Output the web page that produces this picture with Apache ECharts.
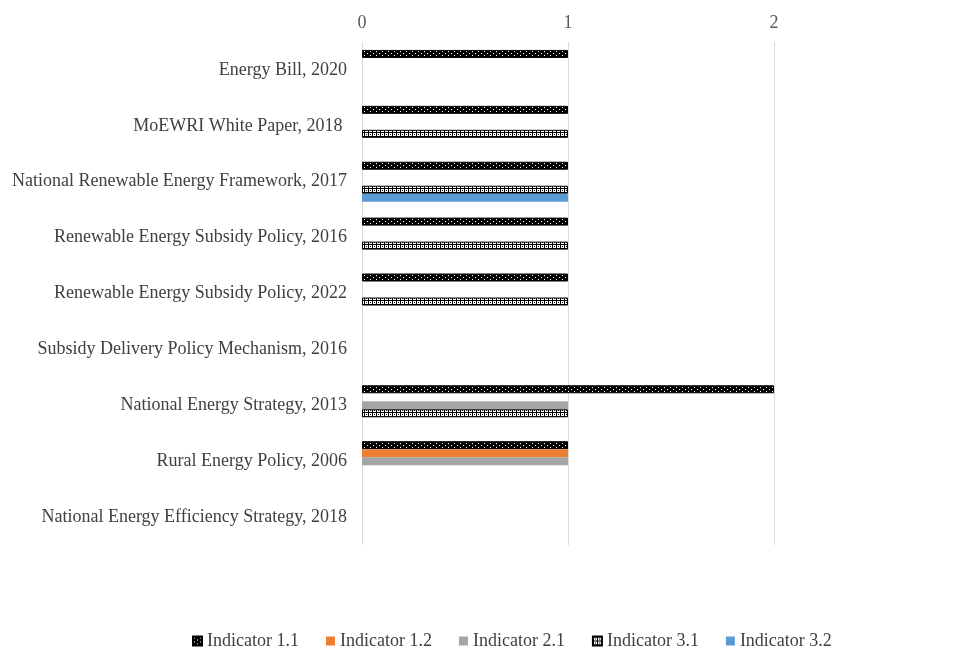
<!DOCTYPE html>
<html>
<head>
<meta charset="utf-8">
<script src="https://cdn.jsdelivr.net/npm/echarts@6/dist/echarts.min.js"></script>
<style>html,body{margin:0;padding:0;background:#fff}#c{width:972px;height:648px}</style>
</head>
<body>
<div id="c"></div>
<script>
var categories = [
  "Energy Bill, 2020",
  "MoEWRI White Paper, 2018 ",
  "National Renewable Energy Framework, 2017",
  "Renewable Energy Subsidy Policy, 2016",
  "Renewable Energy Subsidy Policy, 2022",
  "Subsidy Delivery Policy Mechanism, 2016",
  "National Energy Strategy, 2013",
  "Rural Energy Policy, 2006",
  "National Energy Efficiency Strategy, 2018"
];
var seriesNames = ["Indicator 1.1", "Indicator 1.2", "Indicator 2.1", "Indicator 3.1", "Indicator 3.2"];
var ind11 = [1, 1, 1, 1, 1, null, 2, 1, null];
var ind12 = [null, null, null, null, null, null, null, 1, null];
var ind21 = [null, null, null, null, null, null, 1, 1, null];
var ind31 = [null, 1, 1, 1, 1, null, 1, null, null];
var ind32 = [null, null, 1, null, null, null, null, null, null];
var xTicks = [0, 1, 2];

function makePattern(w, h, bg, fg, pts) {
  var c = document.createElement('canvas');
  c.width = w; c.height = h;
  var g = c.getContext('2d');
  g.fillStyle = bg; g.fillRect(0, 0, w, h);
  g.fillStyle = fg;
  pts.forEach(function (p) { g.fillRect(p[0], p[1], 1, 1); });
  return c;
}
var pat11 = makePattern(6, 4, '#000', '#fff', [[1, 1], [4, 3]]);
var pat31 = makePattern(4, 4, '#fff', '#000', [[0, 0], [1, 0], [2, 0], [3, 0], [0, 1], [0, 2], [0, 3], [2, 2]]);

var styles = [
  { color: { image: pat11, repeat: 'repeat' }, borderColor: '#000', borderWidth: 1 },
  { color: '#ED7D31' },
  { color: '#A5A5A5' },
  { color: { image: pat31, repeat: 'repeat' }, borderColor: '#000', borderWidth: 1 },
  { color: '#5B9BD5' }
];
var datas = [ind11, ind12, ind21, ind31, ind32];

var chart = echarts.init(document.getElementById('c'), null, { renderer: 'canvas' });
chart.setOption({
  animation: false,
  backgroundColor: '#fff',
  textStyle: { fontFamily: 'Liberation Serif' },
  grid: { left: 362, right: 198, top: 42, bottom: 103, containLabel: false },
  xAxis: {
    type: 'value', position: 'top', min: 0, max: 2, interval: 1,
    axisLine: { show: false }, axisTick: { show: false },
    axisLabel: { color: '#595959', fontSize: 18, fontFamily: 'Liberation Serif', margin: 10,
      formatter: function (v) { return xTicks.indexOf(v) >= 0 ? String(v) : ''; } },
    splitLine: { lineStyle: { color: '#D9D9D9', width: 1 } }
  },
  yAxis: {
    type: 'category', data: categories, inverse: true,
    axisLine: { show: false }, axisTick: { show: false },
    axisLabel: { color: '#404040', fontSize: 18, fontFamily: 'Liberation Serif', margin: 15 }
  },
  legend: {
    top: 627, left: 187, itemWidth: 9, itemHeight: 9, itemGap: 27, icon: 'rect',
    textStyle: { color: '#404040', fontSize: 18, fontFamily: 'Liberation Serif' },
    data: seriesNames
  },
  series: seriesNames.map(function (n, k) {
    return { name: n, type: 'bar', data: datas[k], barWidth: 8, barGap: '0%', itemStyle: styles[k] };
  })
});
</script>
</body>
</html>
